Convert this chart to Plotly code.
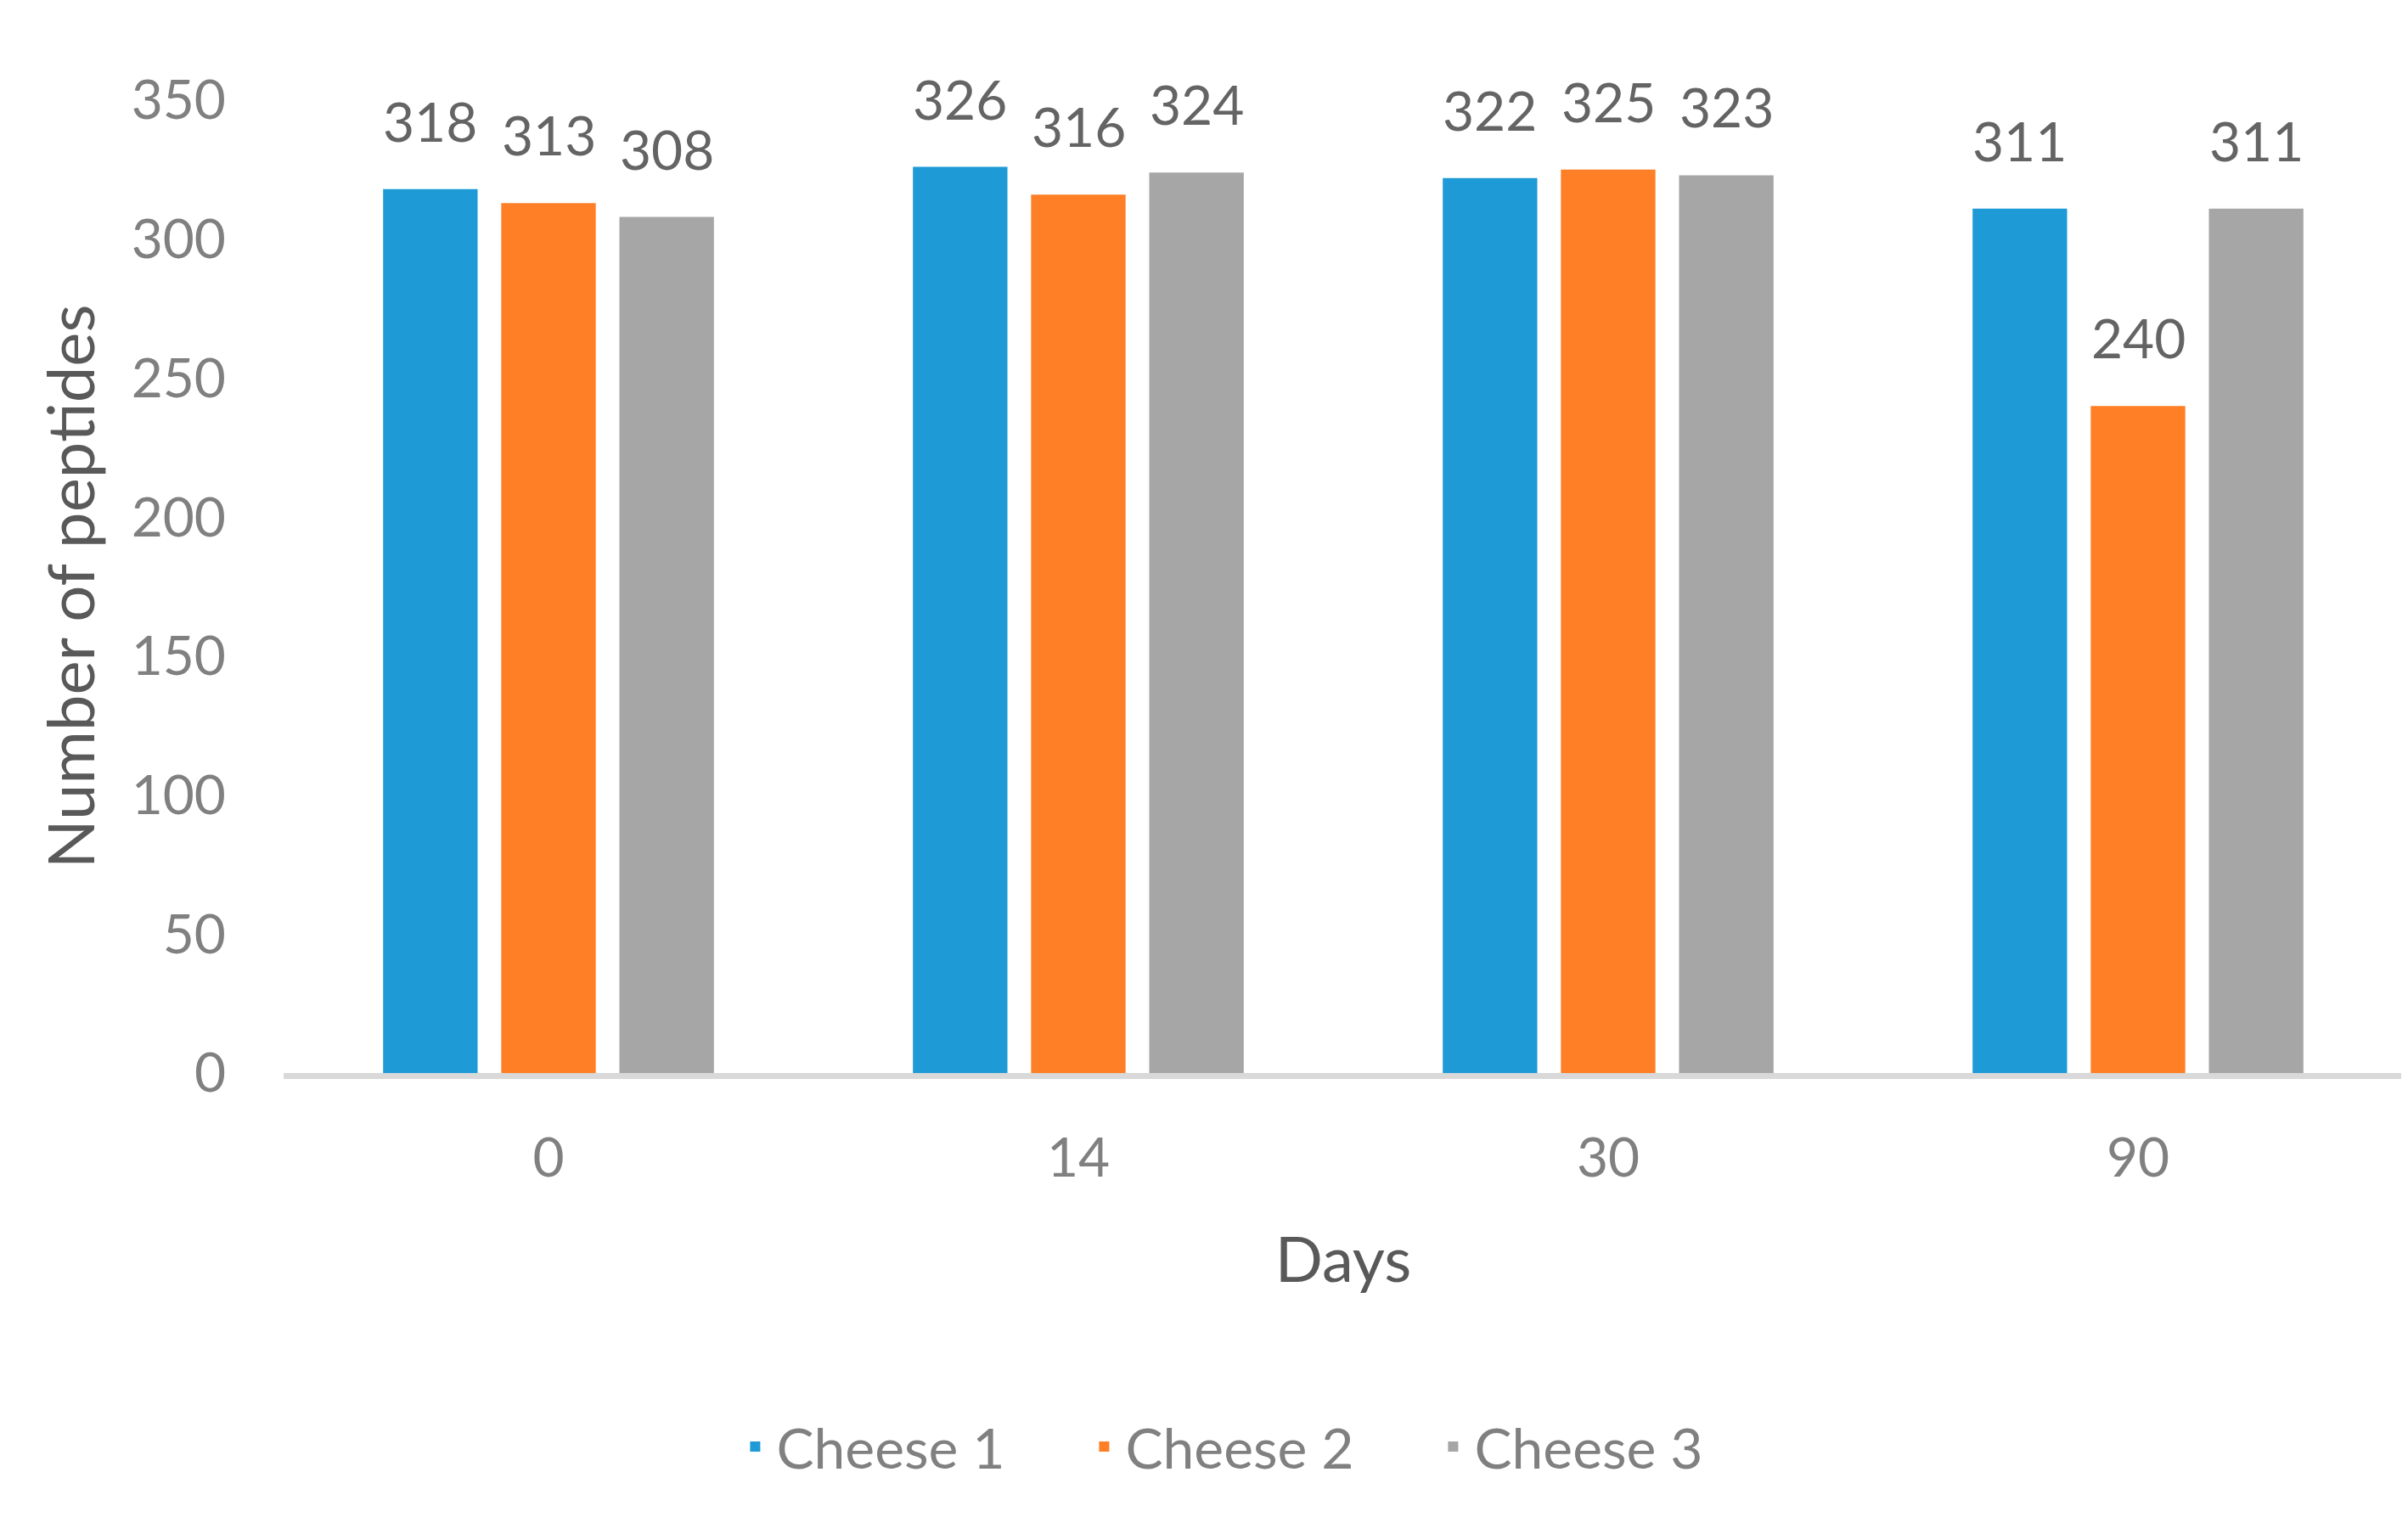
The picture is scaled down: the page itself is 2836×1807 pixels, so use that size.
import plotly.graph_objects as go

days = ["0", "14", "30", "90"]
series_names = ["Cheese 1", "Cheese 2", "Cheese 3"]
cheese1 = [318, 326, 322, 311]
cheese2 = [313, 316, 325, 240]
cheese3 = [308, 324, 323, 311]
colors = ["#1E9BD7", "#FF7F27", "#A6A6A6"]
y_ticks = [0, 50, 100, 150, 200, 250, 300, 350]

FONT = "Lato"
BARGAP = 0.331
BARGROUPGAP = 0.2

fig = go.Figure()
all_series = [cheese1, cheese2, cheese3]
for name, vals, col in zip(series_names, all_series, colors):
    fig.add_trace(go.Bar(x=days, y=vals, name=name, marker=dict(color=col, line=dict(width=0))))

# data labels above bars
slot = (1 - BARGAP) / len(all_series)
annotations = []
for si, vals in enumerate(all_series):
    off = (si - (len(all_series) - 1) / 2) * slot
    for ci, v in enumerate(vals):
        annotations.append(dict(
            x=ci + off, y=v, xref="x", yref="y", text=str(v), showarrow=False,
            yanchor="bottom", xanchor="center", yshift=40,
            font=dict(family=FONT, size=64, color="#646464")))

fig.update_layout(
    width=2828, height=1799,
    paper_bgcolor="white", plot_bgcolor="white",
    margin=dict(l=326, r=6, t=110, b=543, autoexpand=False),
    barmode="group", bargap=BARGAP, bargroupgap=BARGROUPGAP,
    font=dict(family=FONT, size=64, color="#808080"),
    annotations=annotations,
    showlegend=True,
    legend=dict(orientation="h", x=0.4595, xanchor="center",
                y=-0.384, yanchor="middle", font=dict(family=FONT, size=66, color="#808080"),
                entrywidth=356, itemwidth=40),
)
fig.update_xaxes(
    type="category", showline=True, linecolor="#D9D9D9", linewidth=7,
    showgrid=False, ticks="", ticklabelstandoff=38,
    tickfont=dict(family=FONT, size=64, color="#808080"),
    title=dict(text="Days", font=dict(family=FONT, size=74, color="#595959"), standoff=62),
)
fig.update_yaxes(
    range=[0, 350], tickvals=y_ticks, showgrid=False, zeroline=False, showline=False,
    ticks="", ticklabelstandoff=67,
    tickfont=dict(family=FONT, size=64, color="#808080"),
    title=dict(text="Number of peptides", font=dict(family=FONT, size=76, color="#595959"), standoff=18),
)

fig.write_html("out.html")
